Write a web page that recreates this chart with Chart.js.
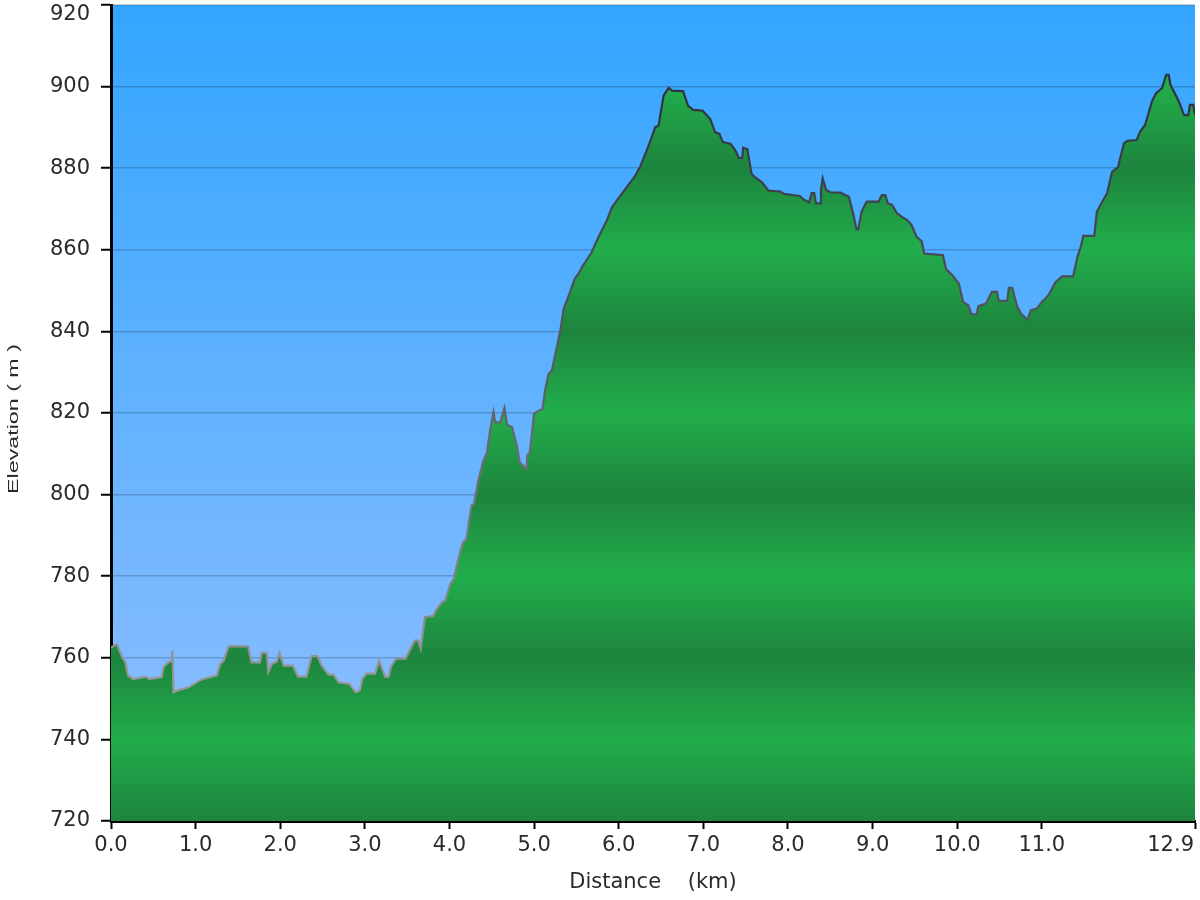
<!DOCTYPE html>
<html>
<head>
<meta charset="utf-8">
<title>Elevation profile</title>
<script src="https://cdn.jsdelivr.net/npm/chart.js@4.4.1/dist/chart.umd.min.js"></script>
<style>
  body { margin: 0; background: #fff; }
  #wrap { width: 1200px; height: 900px; }
</style>
</head>
<body>
<div id="wrap"><canvas id="profileChart" width="1200" height="900"></canvas></div>
<script>
// distance along the track (km)
const distances = [
  0.00, 0.07, 0.13, 0.17, 0.20, 0.26, 0.42, 0.45, 0.60, 0.62, 0.68, 0.72, 0.725, 0.74, 0.81, 0.91,
  1.07, 1.25, 1.29, 1.33, 1.39, 1.62, 1.66, 1.76, 1.78, 1.84, 1.86, 1.90, 1.96, 1.99,
  2.04, 2.15, 2.21, 2.31, 2.37, 2.44, 2.49, 2.57, 2.63, 2.69, 2.82, 2.89, 2.94, 2.97,
  3.02, 3.12, 3.17, 3.24, 3.28, 3.31, 3.37, 3.48, 3.59, 3.63, 3.66, 3.71, 3.81, 3.84, 3.91, 3.95,
  4.01, 4.05, 4.11, 4.16, 4.20, 4.26, 4.29, 4.34, 4.40, 4.44, 4.48, 4.52, 4.54, 4.60, 4.65, 4.68,
  4.74, 4.80, 4.83, 4.91, 4.92, 4.95,
  5.00, 5.04, 5.10, 5.13, 5.17, 5.21, 5.31, 5.35, 5.41, 5.48, 5.52, 5.58, 5.68, 5.76, 5.86, 5.92,
  6.02, 6.11, 6.19, 6.25, 6.33, 6.39, 6.43, 6.47, 6.53, 6.59, 6.63, 6.76, 6.82, 6.88, 6.99,
  7.08, 7.14, 7.19, 7.23, 7.32, 7.38, 7.42, 7.46, 7.47, 7.52, 7.57, 7.61, 7.69, 7.77, 7.91, 7.95,
  8.14, 8.18, 8.25, 8.28, 8.31, 8.33, 8.38, 8.39, 8.41, 8.45, 8.50, 8.62, 8.72, 8.77, 8.81, 8.83,
  8.87, 8.93, 9.07, 9.11, 9.15, 9.18, 9.23, 9.29, 9.35, 9.41, 9.46, 9.52, 9.58, 9.61, 9.83, 9.87, 9.94,
  10.02, 10.07, 10.13, 10.17, 10.23, 10.25, 10.34, 10.41, 10.47, 10.49, 10.59, 10.61, 10.65, 10.71,
  10.76, 10.83, 10.87, 10.94,
  11.00, 11.08, 11.16, 11.24, 11.37, 11.42, 11.46, 11.49, 11.62, 11.65, 11.70, 11.77, 11.83, 11.90, 11.97,
  12.01, 12.12, 12.16, 12.22, 12.26, 12.30, 12.35, 12.42, 12.47, 12.50, 12.52, 12.57, 12.62, 12.68,
  12.73, 12.75, 12.79, 12.81
];

// elevation (m)
const elevations = [
  762.5, 763.3, 760.2, 758.9, 755.7, 754.8, 755.4, 754.8, 755.3, 757.7, 758.9, 759.2, 761.8, 751.6, 752.2, 752.7,
  754.7, 755.7, 758.5, 759.2, 762.8, 762.8, 758.9, 758.9, 761.2, 761.2, 756.5, 758.5, 759.1, 761.2,
  758.1, 758.1, 755.4, 755.4, 760.4, 760.4, 758.1, 755.9, 755.9, 754.0, 753.6, 751.6, 752.0, 754.9,
  756.1, 756.1, 759.3, 755.3, 755.3, 757.9, 759.8, 759.8, 764.2, 764.2, 762.2, 770.0, 770.2, 771.6, 773.6, 774.0,
  778.1, 779.3, 784.7, 788.3, 789.1, 797.3, 797.7, 803.4, 808.3, 810.0, 815.7, 820.2, 817.7, 817.7, 821.2, 817.1,
  816.5, 811.6, 807.9, 806.3, 809.6, 810.4,
  819.8, 820.4, 821.0, 825.6, 829.5, 830.4, 840.2, 845.6, 848.8, 852.9, 854.0, 856.2, 859.4, 863.1, 867.2, 870.4,
  873.3, 875.8, 878.0, 880.2, 884.3, 887.6, 890.0, 890.4, 897.8, 899.7, 899.0, 898.9, 895.3, 894.3, 894.1,
  892.1, 888.8, 888.4, 886.4, 886.0, 884.3, 882.5, 882.5, 885.0, 884.7, 878.6, 877.8, 876.6, 874.5, 874.3, 873.7,
  873.2, 872.4, 871.6, 873.9, 873.9, 871.4, 871.4, 874.7, 877.5, 874.7, 874.1, 874.0, 873.0, 868.9, 865.0, 865.0,
  869.3, 871.8, 871.8, 873.4, 873.4, 871.4, 871.0, 868.9, 868.0, 867.3, 866.1, 863.2, 862.1, 859.1, 858.7, 855.2, 853.8,
  851.7, 847.2, 846.4, 844.2, 844.2, 846.2, 846.8, 849.7, 849.7, 847.5, 847.5, 850.7, 850.7, 846.0,
  844.2, 842.9, 845.2, 845.6,
  847.2, 848.9, 852.0, 853.5, 853.5, 858.2, 860.7, 863.4, 863.4, 869.3, 871.3, 873.8, 879.1, 880.3, 886.1,
  886.7, 886.9, 888.9, 890.6, 893.4, 896.3, 898.4, 899.6, 902.9, 902.9, 900.4, 898.4, 896.3, 893.0,
  893.0, 895.5, 895.5, 893.0
];

// axis ticks
const xTickValues = [0, 1, 2, 3, 4, 5, 6, 7, 8, 9, 10, 11, 12.81];
const xTickLabels = ["0.0", "1.0", "2.0", "3.0", "4.0", "5.0", "6.0", "7.0", "8.0", "9.0", "10.0", "11.0", "12.9"];
const yMin = 720;
const yMax = 920;
const yStep = 20;

const tickFont = { family: "DejaVu Sans", size: 21 };
const tickColor = "#2a2a2a";

function bandFill(context) {
  const chart = context.chart;
  if (!chart.chartArea) return "#22a548";
  const y = chart.scales.y;
  const g = chart.ctx.createLinearGradient(0, y.getPixelForValue(yMin), 0, y.getPixelForValue(yMax));
  for (let v = yMin; v <= yMax; v += yStep) {
    const t = (v - yMin) / (yMax - yMin);
    g.addColorStop(t, ((v - yMin) / yStep) % 2 === 0 ? "#1d843e" : "#22ad4b");
  }
  return g;
}

function strokeColor(context) {
  const chart = context.chart;
  if (!chart.chartArea) return "#777";
  const y = chart.scales.y;
  const g = chart.ctx.createLinearGradient(0, y.getPixelForValue(900), 0, y.getPixelForValue(750));
  g.addColorStop(0, "#2c3340");
  g.addColorStop(0.5, "#5c6068");
  g.addColorStop(1, "#9a9a9a");
  return g;
}

const skyPlugin = {
  id: "sky",
  beforeDraw(chart) {
    const { ctx, chartArea: a } = chart;
    const g = ctx.createLinearGradient(0, a.top, 0, a.bottom);
    g.addColorStop(0, "#33a5ff");
    g.addColorStop(1, "#94c0ff");
    ctx.save();
    ctx.fillStyle = g;
    ctx.fillRect(a.left, a.top, a.right - a.left, a.bottom - a.top);
    ctx.restore();
  }
};

// top y label and last x label sit inside the plot edges; y title is drawn wide
const edgeLabels = {
  id: "edgeLabels",
  afterDraw(chart) {
    const { ctx, chartArea: a } = chart;
    const x = chart.scales.x, y = chart.scales.y;
    ctx.save();
    ctx.font = tickFont.size + "px " + tickFont.family;
    ctx.fillStyle = tickColor;
    ctx.textAlign = "right";
    ctx.textBaseline = "middle";
    ctx.fillText(String(yMax), y.right - 10 - 11, y.getPixelForValue(yMax) + 10);
    const last = xTickValues.length - 1;
    ctx.fillText(xTickLabels[last], x.getPixelForValue(xTickValues[last]) - 1, x.top + 8 + 4 + 12.6);

    ctx.translate(14, (a.top + a.bottom) / 2 + 6);
    ctx.rotate(-Math.PI / 2);
    ctx.scale(1.55, 1);
    ctx.font = "15px 'Liberation Sans'";
    ctx.textAlign = "center";
    ctx.fillText("Elevation ( m )", 0, 0);
    ctx.restore();
  }
};

new Chart(document.getElementById("profileChart"), {
  type: "line",
  data: {
    datasets: [{
      data: distances.map((d, i) => ({ x: d, y: elevations[i] })),
      fill: "start",
      backgroundColor: bandFill,
      borderColor: strokeColor,
      borderWidth: 2.2,
      pointRadius: 0,
      tension: 0
    }]
  },
  options: {
    responsive: false,
    animation: false,
    layout: { padding: { top: 5, right: 5, left: 0, bottom: 0 } },
    plugins: { legend: { display: false }, tooltip: { enabled: false } },
    scales: {
      x: {
        type: "linear",
        min: 0,
        max: xTickValues[xTickValues.length - 1],
        z: 1,
        afterBuildTicks: (scale) => { scale.ticks = xTickValues.map(v => ({ value: v })); },
        afterFit: (scale) => { scale.height = 79; scale.paddingLeft = 0; scale.paddingRight = 0; },
        ticks: {
          autoSkip: false,
          maxRotation: 0,
          padding: 4,
          font: tickFont,
          color: tickColor,
          callback: (v, i) => (i === xTickValues.length - 1 ? "" : xTickLabels[i])
        },
        grid: { drawOnChartArea: false, tickLength: 8, tickColor: "#000", tickWidth: 2 },
        border: { color: "#000", width: 3 },
        title: {
          display: true,
          text: "Distance    (km)",
          font: { family: "DejaVu Sans", size: 21 },
          color: tickColor,
          padding: { top: 0, bottom: 5 }
        }
      },
      y: {
        min: yMin,
        max: yMax,
        z: 1,
        afterFit: (scale) => { scale.width = 111; scale.paddingTop = 0; scale.paddingBottom = 0; },
        ticks: {
          stepSize: yStep,
          padding: 11,
          font: tickFont,
          color: tickColor,
          callback: (v) => (v === yMax ? "" : String(v))
        },
        grid: { color: "rgba(0,0,0,0.18)", lineWidth: 1.5, tickLength: 10, tickColor: "#000", tickWidth: 2 },
        border: { color: "#000", width: 3 },
        title: { display: false }
      }
    }
  },
  plugins: [skyPlugin, edgeLabels]
});
</script>
</body>
</html>
